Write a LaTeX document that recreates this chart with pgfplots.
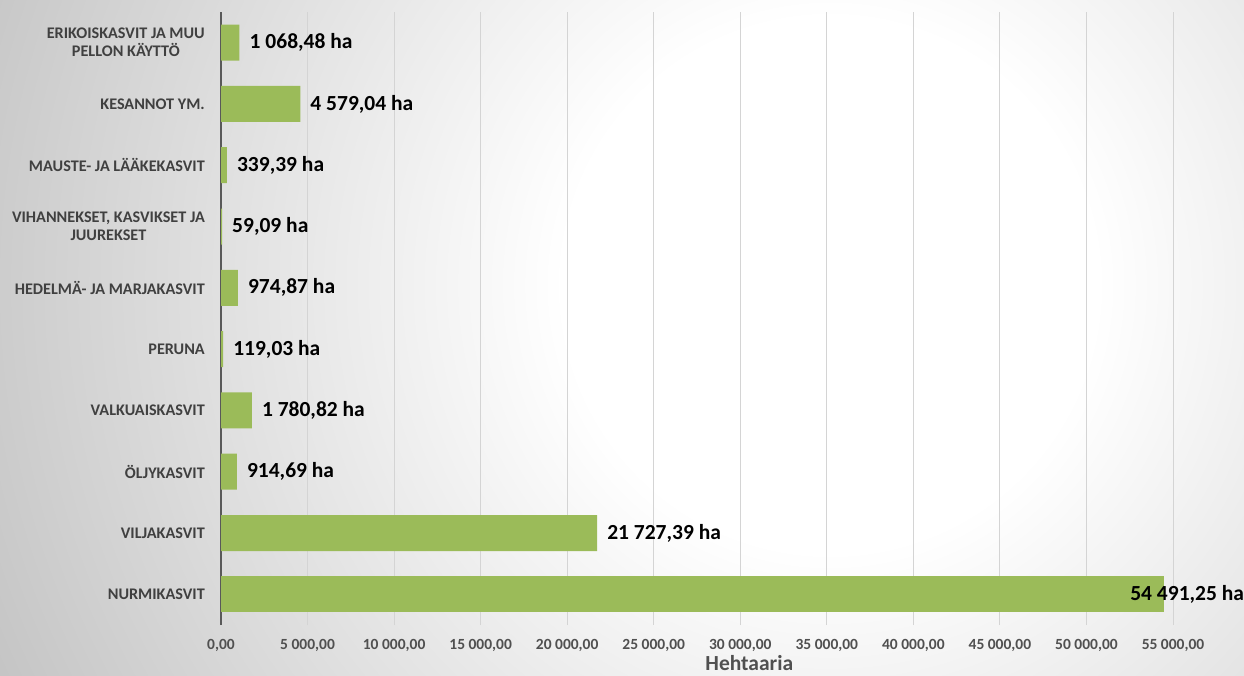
\documentclass[border=0pt]{standalone}
\usepackage{pgfplots}
\pgfplotsset{compat=1.18}
\usepackage{fontspec}
\setmainfont{Carlito}
\definecolor{barg}{HTML}{9BBB59}
\definecolor{catc}{HTML}{404040}
\definecolor{tickc}{HTML}{505050}
\definecolor{gridc}{HTML}{D4D4D4}
\definecolor{axc}{HTML}{595959}
\pgfdeclareradialshading{bgshade}{\pgfpoint{0bp}{0bp}}{color(0bp)=(white); color(7bp)=(white); color(25bp)=(gray!48); color(50bp)=(gray!48)}
\begin{document}
\begin{tikzpicture}[x=1pt,y=1pt]
\useasboundingbox (0,0) rectangle (1244,675);
\begin{scope}
\clip (0,0) rectangle (1244,675);
\shade[shading=bgshade] (830,390) circle (950);
\end{scope}
\begin{axis}[
  at={(221pt,50pt)}, anchor=south west,
  scale only axis, width=952pt, height=613pt,
  xbar, bar width=36pt, bar shift=0pt,
  xmin=0, xmax=55000, ymin=-0.5, ymax=9.5,
  scaled x ticks=false,
  axis lines*=left, axis line style={-},
  x axis line style={draw=none},
  y axis line style={draw=axc, line width=2pt},
  major tick length=0pt,
  xmajorgrids, grid style={draw=gridc, line width=1pt},
  xtick={0,5000,...,55000},
  xticklabels={{0,00},{5 000,00},{10 000,00},{15 000,00},{20 000,00},{25 000,00},{30 000,00},{35 000,00},{40 000,00},{45 000,00},{50 000,00},{55 000,00}},
  xticklabel style={font=\fontsize{15.5}{18}\selectfont\bfseries, text=tickc, inner sep=0pt, anchor=north, yshift=-14pt},
  ytick={0,...,9},
  yticklabels={NURMIKASVIT, VILJAKASVIT, ÖLJYKASVIT, VALKUAISKASVIT, PERUNA, {HEDELMÄ- JA MARJAKASVIT}, {VIHANNEKSET, KASVIKSET JA\\JUUREKSET}, {MAUSTE- JA LÄÄKEKASVIT}, {KESANNOT YM.}, {ERIKOISKASVIT JA MUU\\PELLON KÄYTTÖ}},
  yticklabel style={font=\fontsize{16.2}{18}\selectfont\bfseries, text=catc, align=center, inner sep=0pt, anchor=east, xshift=-16pt},
  xlabel={Hehtaaria},
  xlabel style={font=\fontsize{21.5}{24}\selectfont\bfseries, text=tickc, at={(axis description cs:0.555,0)}, anchor=base, inner sep=0pt, yshift=-45pt},
  point meta=explicit symbolic,
  nodes near coords,
  nodes near coords style={font=\fontsize{21.5}{24}\selectfont\bfseries, text=black, anchor=west, inner sep=0pt, xshift=10pt},
]
\addplot[fill=barg, draw=none] coordinates {
  (21727.39,1) [21 727,39 ha]
  (914.69,2) [914,69 ha]
  (1780.82,3) [1 780,82 ha]
  (119.03,4) [119,03 ha]
  (974.87,5) [974,87 ha]
  (59.09,6) [59,09 ha]
  (339.39,7) [339,39 ha]
  (4579.04,8) [4 579,04 ha]
  (1068.48,9) [1 068,48 ha]
};
\addplot[fill=barg, draw=none, nodes near coords style={anchor=east, xshift=70pt}] coordinates {
  (54491.25,0) [54 491,25 ha]
};
\end{axis}
\end{tikzpicture}
\end{document}
